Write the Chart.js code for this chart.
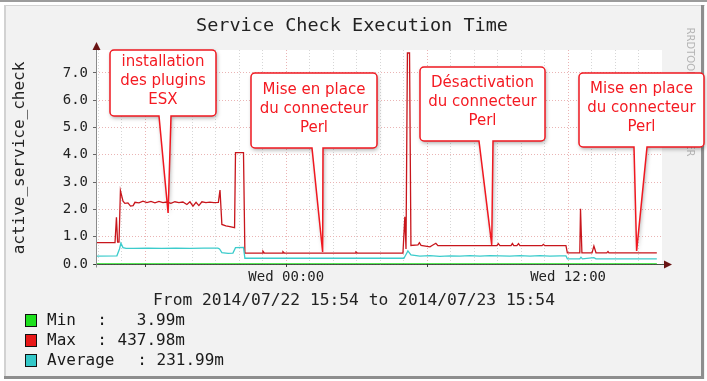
<!DOCTYPE html>
<html>
<head>
<meta charset="utf-8">
<script src="https://cdn.jsdelivr.net/npm/chart.js@4.4.1/dist/chart.umd.min.js"></script>
<style>
html, body { margin: 0; padding: 0; background: #fff; }
canvas { display: block; }
</style>
</head>
<body>
<canvas id="execChart" width="707" height="381"></canvas>
<script>
// hours since 2014/07/22 15:54
const maxHours = [0, 0.81, 0.87, 0.92, 0.98, 1.04, 1.15, 1.23, 1.36, 1.47, 1.58, 1.66, 1.83, 2.00, 2.17, 2.34, 2.51, 2.68, 2.85, 3.02, 3.19, 3.36, 3.53, 3.70, 3.87, 4.00, 4.13, 4.26, 4.38, 4.51, 4.68, 4.85, 5.02, 5.21, 5.28, 5.36, 5.53, 5.70, 5.90, 5.94, 6.28, 6.34, 7.07, 7.11, 7.17, 7.92, 7.96, 8.02, 11.03, 11.07, 11.13, 13.07, 13.15, 13.20, 13.26, 13.35, 13.41, 13.71, 13.77, 13.84, 14.22, 14.31, 14.47, 14.56, 17.07, 17.13, 17.20, 17.67, 17.73, 17.79, 17.92, 17.99, 18.05, 18.99, 19.05, 19.11, 20.01, 20.07, 20.60, 20.63, 20.69, 21.12, 21.20, 21.29, 21.75, 21.80, 21.84, 23.88];
const maxValues = [0.78, 0.78, 1.71, 0.80, 0.80, 2.69, 2.30, 2.22, 2.24, 2.12, 2.14, 2.26, 2.24, 2.30, 2.25, 2.29, 2.24, 2.29, 2.25, 2.27, 2.22, 2.28, 2.25, 2.27, 2.18, 2.28, 2.12, 2.26, 2.14, 2.28, 2.25, 2.27, 2.25, 2.26, 2.71, 1.45, 1.40, 1.37, 1.33, 4.08, 4.08, 0.40, 0.40, 0.47, 0.40, 0.40, 0.45, 0.40, 0.40, 0.44, 0.40, 0.40, 1.73, 0.55, 7.73, 7.73, 0.68, 0.70, 0.78, 0.68, 0.63, 0.68, 0.76, 0.67, 0.67, 0.75, 0.67, 0.67, 0.75, 0.67, 0.67, 0.75, 0.67, 0.67, 0.72, 0.67, 0.67, 0.41, 0.41, 2.02, 0.41, 0.41, 0.66, 0.41, 0.41, 0.46, 0.41, 0.41];

const avgHours = [0, 0.89, 1.00, 1.06, 1.15, 1.28, 1.60, 2.20, 2.80, 3.40, 4.00, 4.60, 5.19, 5.26, 5.36, 5.62, 5.83, 5.94, 6.28, 6.34, 9.00, 13.11, 13.20, 13.28, 13.41, 13.79, 14.22, 14.64, 15.07, 15.50, 15.92, 16.35, 16.77, 17.20, 17.62, 18.05, 18.48, 18.90, 19.33, 19.75, 20.01, 20.07, 20.60, 20.65, 20.71, 21.20, 21.29, 23.88];
const avgValues = [0.29, 0.30, 0.55, 0.76, 0.60, 0.57, 0.57, 0.58, 0.57, 0.58, 0.57, 0.58, 0.58, 0.55, 0.42, 0.39, 0.40, 0.60, 0.61, 0.21, 0.21, 0.21, 0.35, 0.48, 0.33, 0.29, 0.31, 0.28, 0.30, 0.29, 0.31, 0.29, 0.31, 0.30, 0.29, 0.31, 0.29, 0.31, 0.29, 0.30, 0.30, 0.19, 0.19, 0.25, 0.19, 0.23, 0.19, 0.19];

const minHours = [0, 23.88];
const minValues = [0.004, 0.004];

const yTickValues = [0, 0.5, 1, 1.5, 2, 2.5, 3, 3.5, 4, 4.5, 5, 5.5, 6, 6.5, 7, 7.5];
const xGridHours = [0.1, 1.1, 2.1, 3.1, 4.1, 5.1, 6.1, 7.1, 8.1, 9.1, 10.1, 11.1, 12.1, 13.1, 14.1, 15.1, 16.1, 17.1, 18.1, 19.1, 20.1, 21.1, 22.1, 23.1];
const xMajorHours = [2.1, 8.1, 14.1, 20.1];
const xTickHours = [8.1, 20.1];
const xTickLabels = ["Wed 00:00", "Wed 12:00"];

const legendLabels = ["Min", "Max", "Average"];
const legendValues = ["3.99m", "437.98m", "231.99m"];
const legendColors = ["#1ee01e", "#e81818", "#33c8c8"];

const annoHours = [3.07, 9.65, 16.85, 23.02];
const annoValues = [1.87, 0.44, 0.70, 0.48];
const annoText = [
    ["installation", "des plugins", "ESX"],
    ["Mise en place", "du connecteur", "Perl"],
    ["Désactivation", "du connecteur", "Perl"],
    ["Mise en place", "du connecteur", "Perl"]
];

// callout box geometry in pixels
const calloutBoxes = [
    { left: 110, top: 50, right: 216, bottom: 116, baseL: 159, baseR: 171 },
    { left: 251, top: 73, right: 377, bottom: 148, baseL: 312, baseR: 323 },
    { left: 420, top: 67, right: 545, bottom: 141, baseL: 479, baseR: 493 },
    { left: 579, top: 73, right: 704, bottom: 147, baseL: 634, baseR: 647 }
];

const mono = "'DejaVu Sans Mono', monospace";

function isClose(a, list) {
    return list.some(v => Math.abs(v - a) < 0.01);
}

const rrdFrame = {
    id: "rrdFrame",
    beforeDraw(chart) {
        const { ctx, chartArea } = chart;
        ctx.save();
        ctx.fillStyle = "#ffffff";
        ctx.fillRect(0, 0, 707, 381);
        ctx.fillStyle = "#9c9c9c";
        ctx.fillRect(0, 0, 707, 2);
        ctx.fillStyle = "#f2f2f2";
        ctx.fillRect(4, 5, 701, 374);
        ctx.fillStyle = "#d2d2d2";
        ctx.fillRect(4, 5, 701, 1);
        ctx.fillRect(4, 5, 2, 374);
        ctx.fillStyle = "#8e8e8e";
        ctx.fillRect(701, 5, 3, 374);
        ctx.fillRect(4, 376, 700, 3);
        ctx.fillStyle = "#ffffff";
        ctx.fillRect(chartArea.left, chartArea.top, chartArea.right - chartArea.left, chartArea.bottom - chartArea.top);

        ctx.translate(690, 92);
        ctx.rotate(Math.PI / 2);
        ctx.fillStyle = "#b4b4b4";
        ctx.font = "10px 'DejaVu Sans'";
        ctx.textAlign = "center";
        ctx.textBaseline = "middle";
        ctx.fillText("RRDTOOL / TOBI OETIKER", 0, 0);
        ctx.restore();
    },
    afterDatasetsDraw(chart) {
        const { ctx, chartArea } = chart;
        const x0 = chartArea.left + 0.5;
        const y0 = chartArea.bottom + 0.5;
        ctx.save();
        ctx.lineWidth = 1;
        ctx.strokeStyle = "rgba(40, 60, 40, 0.85)";
        ctx.beginPath();
        ctx.moveTo(x0 - 3, y0);
        ctx.lineTo(667, y0);
        ctx.stroke();
        ctx.strokeStyle = "#8a8a8a";
        ctx.beginPath();
        ctx.moveTo(x0, y0 + 3);
        ctx.lineTo(x0, 47);
        ctx.stroke();
        ctx.fillStyle = "#6a1414";
        ctx.beginPath();
        ctx.moveTo(672, y0);
        ctx.lineTo(664, y0 - 4);
        ctx.lineTo(664, y0 + 4);
        ctx.closePath();
        ctx.fill();
        ctx.beginPath();
        ctx.moveTo(x0, 42);
        ctx.lineTo(x0 - 4, 50);
        ctx.lineTo(x0 + 4, 50);
        ctx.closePath();
        ctx.fill();
        ctx.restore();
    },
    afterDraw(chart) {
        const { ctx, scales } = chart;
        ctx.save();
        ctx.fillStyle = "#222";
        ctx.textAlign = "center";
        ctx.textBaseline = "middle";
        ctx.font = "18.5px " + mono;
        ctx.fillText("Service Check Execution Time", 352, 26);
        ctx.font = "16.3px " + mono;
        ctx.fillText("From 2014/07/22 15:54 to 2014/07/23 15:54", 354, 301);

        ctx.save();
        ctx.translate(20, 158);
        ctx.rotate(-Math.PI / 2);
        ctx.font = "16px " + mono;
        ctx.fillText("active_service_check", 0, 0);
        ctx.restore();

        // legend
        const colonX = [102, 102, 142];
        const valueRight = [185, 185, 224];
        ctx.font = "16px " + mono;
        legendLabels.forEach((label, i) => {
            const cy = 321 + i * 20;
            ctx.fillStyle = legendColors[i];
            ctx.fillRect(25.5, cy - 6.5, 11, 12);
            ctx.strokeStyle = "#111";
            ctx.lineWidth = 1;
            ctx.strokeRect(25.5, cy - 6.5, 11, 12);
            ctx.fillStyle = "#1a1a1a";
            ctx.textAlign = "left";
            ctx.fillText(label, 47, cy);
            ctx.textAlign = "center";
            ctx.fillText(":", colonX[i], cy);
            ctx.textAlign = "right";
            ctx.fillText(legendValues[i], valueRight[i], cy);
        });

        // callouts
        annoText.forEach((lines, i) => {
            const box = calloutBoxes[i];
            const tipX = scales.x.getPixelForValue(annoHours[i]);
            const tipY = scales.y.getPixelForValue(annoValues[i]);
            const r = 4;
            ctx.save();
            ctx.beginPath();
            ctx.moveTo(box.left + r, box.top);
            ctx.lineTo(box.right - r, box.top);
            ctx.arcTo(box.right, box.top, box.right, box.top + r, r);
            ctx.lineTo(box.right, box.bottom - r);
            ctx.arcTo(box.right, box.bottom, box.right - r, box.bottom, r);
            ctx.lineTo(box.baseR, box.bottom);
            ctx.lineTo(tipX, tipY);
            ctx.lineTo(box.baseL, box.bottom);
            ctx.lineTo(box.left + r, box.bottom);
            ctx.arcTo(box.left, box.bottom, box.left, box.bottom - r, r);
            ctx.lineTo(box.left, box.top + r);
            ctx.arcTo(box.left, box.top, box.left + r, box.top, r);
            ctx.closePath();
            ctx.shadowColor = "rgba(0, 0, 0, 0.35)";
            ctx.shadowBlur = 4;
            ctx.shadowOffsetX = 1;
            ctx.shadowOffsetY = 2;
            ctx.fillStyle = "#ffffff";
            ctx.fill();
            ctx.shadowColor = "transparent";
            ctx.strokeStyle = "#f01820";
            ctx.lineWidth = 1.5;
            ctx.stroke();

            ctx.fillStyle = "#f41a22";
            ctx.font = "15px 'DejaVu Sans'";
            ctx.textAlign = "center";
            ctx.textBaseline = "middle";
            const cx = (box.left + box.right) / 2;
            const cy = (box.top + box.bottom) / 2 - 1.5;
            lines.forEach((line, k) => {
                ctx.fillText(line, cx, cy + (k - 1) * 19);
            });
            ctx.restore();
        });
        ctx.restore();
    }
};

function toPoints(xs, ys) {
    return xs.map((x, i) => ({ x, y: ys[i] }));
}

const execChart = new Chart(document.getElementById("execChart"), {
    type: "line",
    data: {
        datasets: [
            {
                label: "Min",
                data: toPoints(minHours, minValues),
                borderColor: "#1ee01e",
                borderWidth: 1.2,
                pointRadius: 0,
                tension: 0
            },
            {
                label: "Average",
                data: toPoints(avgHours, avgValues),
                borderColor: "#3ccccc",
                borderWidth: 1.3,
                pointRadius: 0,
                tension: 0
            },
            {
                label: "Max",
                data: toPoints(maxHours, maxValues),
                borderColor: "#c8161c",
                borderWidth: 1.3,
                pointRadius: 0,
                tension: 0
            }
        ]
    },
    plugins: [rrdFrame],
    options: {
        responsive: false,
        animation: false,
        events: [],
        layout: {
            padding: { top: 50, right: 45, left: 0, bottom: 0 }
        },
        plugins: {
            legend: { display: false },
            tooltip: { enabled: false }
        },
        scales: {
            x: {
                type: "linear",
                min: 0,
                max: 24.1,
                afterBuildTicks(scale) {
                    scale.ticks = xGridHours.map(v => ({ value: v }));
                },
                afterFit(scale) {
                    scale.height = 117;
                },
                border: { display: false, dash: [1, 2] },
                grid: {
                    color(ctx) {
                        return isClose(ctx.tick.value, xMajorHours) ? "#eab4b4" : "#d6d6d6";
                    },
                    tickColor(ctx) {
                        return isClose(ctx.tick.value, xMajorHours) ? "#444" : "rgba(0,0,0,0)";
                    },
                    tickLength: 3
                },
                ticks: {
                    autoSkip: false,
                    maxRotation: 0,
                    padding: 2,
                    color: "#222",
                    font: { family: mono, size: 14 },
                    callback(value) {
                        const idx = xTickHours.findIndex(h => Math.abs(h - value) < 0.01);
                        return idx >= 0 ? xTickLabels[idx] : "";
                    }
                }
            },
            y: {
                min: 0,
                max: 7.84,
                afterBuildTicks(scale) {
                    scale.ticks = yTickValues.map(v => ({ value: v }));
                },
                afterFit(scale) {
                    scale.width = 96;
                },
                border: { display: false, dash: [1, 2] },
                grid: {
                    color(ctx) {
                        return Number.isInteger(ctx.tick.value) ? "#eab4b4" : "#d6d6d6";
                    },
                    tickColor: "#666",
                    tickLength: 3
                },
                ticks: {
                    padding: 5,
                    color: "#222",
                    font: { family: mono, size: 14 },
                    callback(value) {
                        return Number.isInteger(value) ? value.toFixed(1) : "";
                    }
                }
            }
        }
    }
});
</script>
</body>
</html>
